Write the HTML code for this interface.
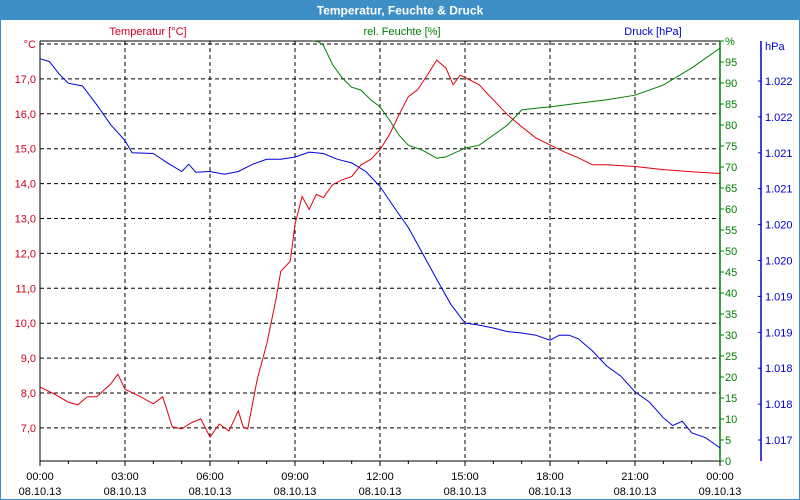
<!DOCTYPE html>
<html><head><meta charset="utf-8"><style>
html,body{margin:0;padding:0;width:800px;height:500px;overflow:hidden;background:#fff}
svg{display:block;font-family:"Liberation Sans",sans-serif}
</style></head><body>
<svg id="chart" width="800" height="500" viewBox="0 0 800 500" xmlns="http://www.w3.org/2000/svg">
<rect x="0.5" y="0.5" width="799" height="499" fill="#fff" stroke="#3d8fc6"/>
<rect x="0" y="0" width="800" height="20" fill="#3d8fc6"/>
<text x="400" y="14.5" text-anchor="middle" font-size="12" font-weight="bold" fill="#fff">Temperatur, Feuchte &amp; Druck</text>
<text x="148" y="35" text-anchor="middle" font-size="11" fill="#d00020">Temperatur [°C]</text>
<text x="402" y="35" text-anchor="middle" font-size="11" fill="#008000">rel. Feuchte [%]</text>
<text x="653" y="35" text-anchor="middle" font-size="11" fill="#0000d0">Druck [hPa]</text>
<g id="grid"></g>
<g id="axes"></g>
<g id="series"></g>
</svg>
<script>
const timeTickLabels=["00:00","03:00","06:00","09:00","12:00","15:00","18:00","21:00","00:00"];
const dateTickLabels=["08.10.13","08.10.13","08.10.13","08.10.13","08.10.13","08.10.13","08.10.13","08.10.13","09.10.13"];
const tempTicks=[18,17,16,15,14,13,12,11,10,9,8,7];
const tempTickLabels=["°C","17,0","16,0","15,0","14,0","13,0","12,0","11,0","10,0","9,0","8,0","7,0"];
const humTicks=[100,95,90,85,80,75,70,65,60,55,50,45,40,35,30,25,20,15,10,5,0];
const humTickLabels=["%","95","90","85","80","75","70","65","60","55","50","45","40","35","30","25","20","15","10","5","0"];
const presTicks=[1.0222,1.0217,1.0212,1.0207,1.0202,1.0197,1.0192,1.0187,1.0182,1.0177,1.0172];
const presTickLabels=["1.022","1.022","1.021","1.021","1.020","1.020","1.019","1.019","1.018","1.018","1.017"];

const tempHours=[0,0.5,1,1.33,1.67,2,2.5,2.75,3,3.5,4,4.33,4.67,5,5.33,5.67,6,6.33,6.67,7,7.17,7.33,7.67,8,8.33,8.5,8.83,9,9.25,9.5,9.75,10,10.33,10.67,11,11.33,11.67,12,12.33,12.67,13,13.33,13.67,14,14.33,14.58,14.83,15.17,15.5,16,16.5,17,17.5,18,18.5,19,19.5,20,21,22,23,24];
const tempValues=[8.17,7.97,7.74,7.66,7.89,7.89,8.26,8.54,8.11,7.91,7.69,7.89,7.03,6.97,7.14,7.26,6.74,7.11,6.91,7.49,7.03,6.97,8.4,9.4,10.69,11.49,11.77,12.83,13.63,13.26,13.69,13.6,13.97,14.11,14.2,14.54,14.69,14.97,15.4,15.97,16.49,16.69,17.11,17.54,17.31,16.83,17.11,16.97,16.83,16.4,15.97,15.63,15.31,15.11,14.91,14.74,14.54,14.54,14.49,14.4,14.34,14.29];
const humHours=[9.63,9.83,10,10.33,10.67,11,11.33,11.67,12,12.33,12.67,13,13.5,14,14.33,15,15.5,16,16.5,17,17.5,18,19,20,21,22,23,24];
const humValues=[100,99.8,99.0,94.3,91.2,89.0,88.3,86.0,84.3,81.2,77.6,75.2,74.0,72.1,72.4,74.5,75.2,77.6,80.0,83.6,84.0,84.3,85.2,86.0,87.1,89.5,93.6,98.3];
const presHours=[0,0.33,0.67,1,1.5,2,2.5,3,3.25,4,4.5,5,5.25,5.5,6,6.5,7,7.5,8,8.5,9,9.5,10,10.5,11,11.5,12,12.5,13,13.5,14,14.5,15,15.5,16,16.5,17,17.5,18,18.33,18.67,19,19.5,20,20.5,21,21.5,22,22.33,22.67,23,23.5,24];
const presValues=[1.02251,1.02247,1.02230,1.02217,1.02213,1.02187,1.02159,1.02137,1.02120,1.02119,1.02106,1.02094,1.02104,1.02093,1.02094,1.02090,1.02094,1.02104,1.02111,1.02111,1.02114,1.02121,1.02119,1.02111,1.02106,1.02094,1.02073,1.02044,1.02016,1.01980,1.01944,1.01909,1.01883,1.01880,1.01876,1.01871,1.01869,1.01866,1.01859,1.01866,1.01866,1.01861,1.01844,1.01823,1.01809,1.01787,1.01773,1.01751,1.01740,1.01746,1.01730,1.01723,1.01709];

const X0=40,X1=720,YT=41,YB=461;
const xS=h=>X0+h/24*(X1-X0);
const yT=t=>44+(18-t)*34.9;
const yH=v=>YB-v/100*(YB-YT);
const yP=p=>81+(1.0222-p)/0.0005*35.9;
const NS="http://www.w3.org/2000/svg";
function mk(tag,attrs,parent,text){const e=document.createElementNS(NS,tag);for(const k in attrs)e.setAttribute(k,attrs[k]);if(text!==undefined)e.textContent=text;parent.appendChild(e);return e;}
const grid=document.getElementById('grid'),axes=document.getElementById('axes'),series=document.getElementById('series');

for(let i=1;i<timeTickLabels.length-1;i++){
  const l=mk('line',{x1:xS(i*3),x2:xS(i*3),y1:YT,y2:YB,stroke:'#000','stroke-dasharray':'4,3'},grid);
  
  
}
tempTicks.forEach(t=>{
  const l=mk('line',{x1:X0,x2:X1,y1:yT(t),y2:yT(t),stroke:'#000','stroke-dasharray':'4,3'},grid);
  
  
});
mk('line',{x1:X0,x2:X1,y1:YT,y2:YT,stroke:'#000'},axes);
mk('line',{x1:X0,x2:X0,y1:YT,y2:YB,stroke:'#000'},axes);
mk('line',{x1:X0,x2:X1,y1:YB,y2:YB,stroke:'#000'},axes);
mk('line',{x1:X1,x2:X1,y1:YT,y2:YB,stroke:'#008000','stroke-width':1.5},axes);
mk('line',{x1:761,x2:761,y1:YT,y2:YB,stroke:'#0000d0','stroke-width':1.5},axes);

for(let h=0;h<=24;h++){
  const t=mk('line',{x1:xS(h),x2:xS(h),y1:YB,y2:YB+(h%3?3:5),stroke:'#000'},axes);
  
  
}
timeTickLabels.forEach((s,i)=>{
  const a=mk('text',{x:xS(i*3),y:480,'text-anchor':'middle','font-size':11,fill:'#000'},axes,s);
  
  
  const b=mk('text',{x:xS(i*3),y:495,'text-anchor':'middle','font-size':11,fill:'#000'},axes,dateTickLabels[i]);
  
  
});
tempTicks.forEach((t,i)=>{
  const a=mk('text',{x:36,y:yT(t)+4,'text-anchor':'end','font-size':11,fill:'#d00020'},axes,tempTickLabels[i]);
  
  
});
humTicks.forEach((v,i)=>{
  const t=mk('line',{x1:X1,x2:X1+4,y1:yH(v),y2:yH(v),stroke:'#008000'},axes);
  
  
  const a=mk('text',{x:725,y:yH(v)+4,'font-size':11,fill:'#008000'},axes,humTickLabels[i]);
  
  
});
mk('text',{x:765,y:50,'font-size':11,fill:'#0000d0'},axes,'hPa');
presTicks.forEach((p,i)=>{
  const t=mk('line',{x1:758,x2:761,y1:yP(p),y2:yP(p),stroke:'#0000d0'},axes);
  
  
  const a=mk('text',{x:765,y:yP(p)+4,'font-size':11,fill:'#0000d0'},axes,presTickLabels[i]);
  
  
});
function line(hours,vals,yf,color,name){
  const pts=hours.map((h,i)=>xS(h).toFixed(1)+','+yf(vals[i]).toFixed(1)).join(' ');
  const p=mk('polyline',{points:pts,fill:'none',stroke:color,'stroke-width':1},series);
  
  
}
line(presHours,presValues,yP,'#0000e0','pressure-line');
line(humHours,humValues,yH,'#008000','humidity-line');
line(tempHours,tempValues,yT,'#e00010','temperature-line');
</script>
</body></html>
